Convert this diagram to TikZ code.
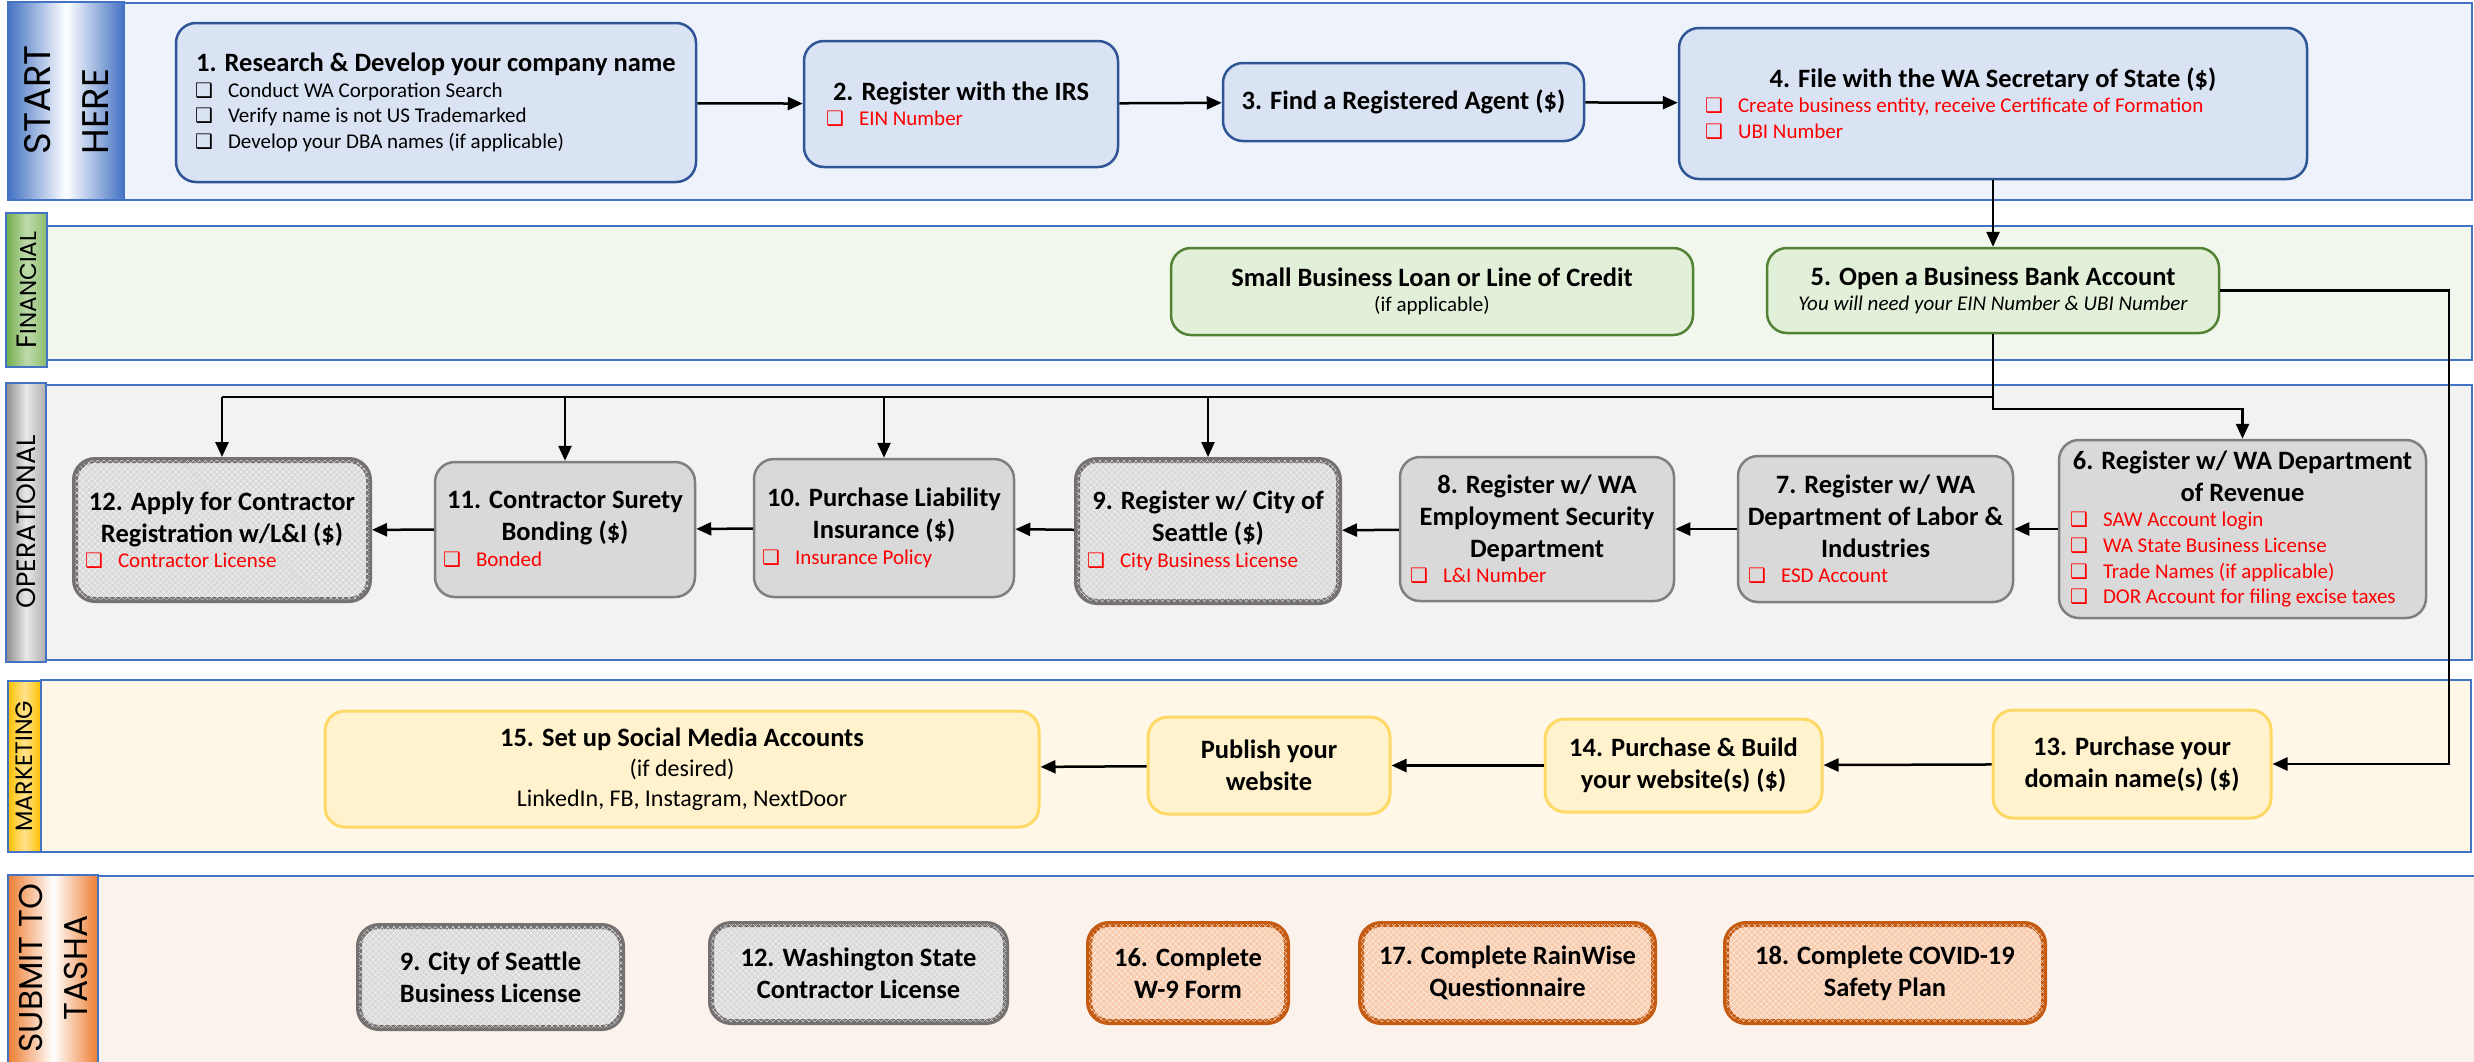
\documentclass[tikz,border=0pt]{standalone}
\usepackage{fontspec}
\setmainfont{Carlito}
\newfontfamily\lanefont{Poppins}
\newfontfamily\dingfont{DejaVu Sans}
\usetikzlibrary{arrows.meta,patterns.meta}
\setlength{\parindent}{0pt}

\definecolor{laneblue}{HTML}{4472C4}
\definecolor{blueline}{HTML}{2F5597}
\definecolor{bluefill}{HTML}{DAE3F3}
\definecolor{bluelane}{HTML}{EEF2FA}
\definecolor{greenstrip}{HTML}{70AD47}
\definecolor{greenline}{HTML}{548235}
\definecolor{greenfill}{HTML}{E2F0D9}
\definecolor{greenlane}{HTML}{F2F7EE}
\definecolor{graystrip}{HTML}{8C8C8C}
\definecolor{grayline}{HTML}{7F7F7F}
\definecolor{grayfill}{HTML}{D9D9D9}
\definecolor{graylane}{HTML}{F2F2F2}
\definecolor{darkgray}{HTML}{767171}
\definecolor{goldstrip}{HTML}{FFC000}
\definecolor{goldline}{HTML}{FFD966}
\definecolor{goldfill}{HTML}{FFF2CC}
\definecolor{goldlane}{HTML}{FFF8E8}
\definecolor{ruststrip}{HTML}{ED7D31}
\definecolor{rustline}{HTML}{C55A11}
\definecolor{rustfill}{HTML}{F8CBAD}
\definecolor{rustlane}{HTML}{FBF2EC}
\definecolor{itemred}{HTML}{FF0000}

% box text helpers
\newcommand{\boxbody}[2]{\begin{minipage}{#1pt}#2\end{minipage}}
\newcommand{\ttl}[1]{{\fontsize{26.5}{32}\selectfont\bfseries\centerline{#1}}}
\newcommand{\chk}{{\dingfont\fontsize{20}{20}\selectfont ❑}}
\newcommand{\itm}[1]{\makebox[33pt][l]{\chk}#1\par}
\newcommand{\ritm}[1]{{\color{itemred}\itm{#1}}}

\begin{document}
\begin{tikzpicture}[
    x=1pt, y=-1pt,
    lane/.style={draw=laneblue, line width=2pt},
    lanelabel/.style={rotate=90, inner sep=0pt, text=black},
    box/.style={rectangle, rounded corners=20pt, inner sep=0pt, font=\fontsize{21}{25.6}\selectfont},
    bluebox/.style={box, fill=bluefill, draw=blueline, line width=2.5pt},
    greenbox/.style={box, fill=greenfill, draw=greenline, line width=2.5pt},
    graybox/.style={box, fill=grayfill, draw=grayline, line width=2.5pt},
    goldbox/.style={box, fill=goldfill, draw=goldline, line width=3pt},
    texture/.style={postaction={pattern={Lines[angle=45,distance=4pt,line width=0.6pt]}, pattern color=white!80!#1},
                    postaction={pattern={Lines[angle=-45,distance=4pt,line width=0.6pt]}, pattern color=white!80!#1}},
    heavybox/.style={box, fill=grayfill, draw=darkgray, line width=6pt, texture=grayfill},
    rustbox/.style={box, fill=rustfill, draw=rustline, line width=6pt, texture=rustfill},
    wire/.style={line width=2.5pt},
    flow/.style={wire, -{Triangle[length=15pt,width=13pt]}}
    ]
    \useasboundingbox (0,0) rectangle (2474,1061);

    % lanes
    \filldraw[lane, fill=bluelane] (124,3) rectangle (2472,200);
    \shadedraw[lane, left color=laneblue, right color=laneblue, middle color=white] (8,2) rectangle (124,200);
    \filldraw[lane, fill=greenlane] (47,226) rectangle (2472,360);
    \shadedraw[lane, left color=greenstrip, right color=greenstrip!80, middle color=greenstrip!45] (6,213) rectangle (47,367);
    \filldraw[lane, fill=graylane] (46,385) rectangle (2472,660);
    \shadedraw[lane, left color=graystrip, right color=graystrip!70, middle color=grayfill!60] (6,383) rectangle (46,662);
    \filldraw[lane, fill=goldlane] (41,680) rectangle (2471,852);
    \shadedraw[lane, left color=goldstrip, right color=goldstrip, middle color=goldstrip!45] (8,681) rectangle (41,852);
    \filldraw[lane, fill=rustlane] (98,876) rectangle (2476,1063);
    \shadedraw[lane, left color=ruststrip, right color=ruststrip, middle color=white] (8,875) rectangle (98,1063);

    \node[lanelabel, font=\lanefont\fontsize{37}{58}\selectfont, align=left] (lstart) at (66,100) {START\\HERE};
    \node[lanelabel, font=\lanefont\fontsize{23}{28}\selectfont] (lfin) at (27,290) {{\fontsize{28}{28}\selectfont F}INANCIAL};
    \node[lanelabel, font=\lanefont\fontsize{26.5}{30}\selectfont] (lops) at (26,522) {OPERATIONAL};
    \node[lanelabel, font=\lanefont\fontsize{23.7}{28}\selectfont] (lmkt) at (24.5,766) {MARKETING};
    \node[lanelabel, font=\lanefont\fontsize{33}{45}\selectfont, align=center] (lsub) at (53,968) {SUBMIT TO\\TASHA};

    % start here
    \node[bluebox, minimum width=520, minimum height=159] (b1) at (436,102.5)
      {\boxbody{482}{\ttl{1. Research \& Develop your company name}\itm{Conduct WA Corporation Search}\itm{Verify name is not US Trademarked}\itm{Develop your DBA names (if applicable)}}};
    \node[bluebox, minimum width=314, minimum height=126] (b2) at (961,104)
      {\boxbody{270}{\ttl{2. Register with the IRS}\ritm{EIN Number}}};
    \node[bluebox, minimum width=361, minimum height=78] (b3) at (1403.5,102)
      {\boxbody{317}{\ttl{3. Find a Registered Agent (\$)}}};
    \node[bluebox, minimum width=628, minimum height=151] (b4) at (1993,103.5)
      {\boxbody{576}{\ttl{4. File with the WA Secretary of State (\$)}\ritm{Create business entity, receive Certificate of Formation}\ritm{UBI Number}}};

    % financial
    \node[greenbox, minimum width=522, minimum height=87] (loan) at (1432,291.5)
      {\boxbody{478}{\ttl{Small Business Loan or Line of Credit}\centerline{(if applicable)}}};
    \node[greenbox, minimum width=452, minimum height=85] (b5) at (1993,290.5)
      {\boxbody{408}{\ttl{5. Open a Business Bank Account}\centerline{\itshape You will need your EIN Number \& UBI Number}}};

    % operational
    \node[graybox, minimum width=367, minimum height=178] (b6) at (2242.5,529)
      {\boxbody{345}{\ttl{6. Register w/ WA Department}\ttl{of Revenue}\ritm{SAW Account login}\ritm{WA State Business License}\ritm{Trade Names (if applicable)}\ritm{DOR Account for filing excise taxes}}};
    \node[graybox, minimum width=275, minimum height=146] (b7) at (1875.5,529)
      {\boxbody{255}{\ttl{7. Register w/ WA}\ttl{Department of Labor \&}\ttl{Industries}\ritm{ESD Account}}};
    \node[graybox, minimum width=274, minimum height=144] (b8) at (1537,529)
      {\boxbody{254}{\ttl{8. Register w/ WA}\ttl{Employment Security}\ttl{Department}\ritm{L\&I Number}}};
    \node[heavybox, minimum width=262, minimum height=142] (b9) at (1208,531)
      {\boxbody{242}{\ttl{9. Register w/ City of}\ttl{Seattle (\$)}\ritm{City Business License}}};
    \node[graybox, minimum width=260, minimum height=138] (b10) at (884,528)
      {\boxbody{244}{\ttl{10. Purchase Liability}\ttl{Insurance (\$)}\ritm{Insurance Policy}}};
    \node[graybox, minimum width=260, minimum height=135] (b11) at (565,529.5)
      {\boxbody{244}{\ttl{11. Contractor Surety}\ttl{Bonding (\$)}\ritm{Bonded}}};
    \node[heavybox, minimum width=294, minimum height=140] (b12) at (222,530)
      {\boxbody{274}{\ttl{12. Apply for Contractor}\ttl{Registration w/L\&I (\$)}\ritm{Contractor License}}};

    % marketing
    \node[goldbox, minimum width=278, minimum height=108] (b13) at (2132,764)
      {\boxbody{238}{\ttl{13. Purchase your}\ttl{domain name(s) (\$)}}};
    \node[goldbox, minimum width=277, minimum height=93] (b14) at (1683.5,765.5)
      {\boxbody{237}{\ttl{14. Purchase \& Build}\ttl{your website(s) (\$)}}};
    \node[goldbox, minimum width=242, minimum height=97] (pub) at (1269,765.5)
      {\boxbody{202}{\ttl{Publish your}\ttl{website}}};
    \node[goldbox, minimum width=714, minimum height=116] (b15) at (682,769)
      {\boxbody{674}{\ttl{15. Set up Social Media Accounts}{\fontsize{24}{30}\selectfont\centerline{(if desired)}\centerline{LinkedIn, FB, Instagram, NextDoor}}}};

    % submit to tasha
    \node[heavybox, minimum width=263, minimum height=102] (s9) at (490.5,977)
      {\boxbody{223}{\ttl{9. City of Seattle}\ttl{Business License}}};
    \node[heavybox, minimum width=295, minimum height=98] (s12) at (858.5,973)
      {\boxbody{255}{\ttl{12. Washington State}\ttl{Contractor License}}};
    \node[rustbox, minimum width=198, minimum height=98] (s16) at (1188,973)
      {\boxbody{158}{\ttl{16. Complete}\ttl{W-9 Form}}};
    \node[rustbox, minimum width=293, minimum height=98] (s17) at (1507.5,973)
      {\boxbody{253}{\ttl{17. Complete RainWise}\ttl{Questionnaire}}};
    \node[rustbox, minimum width=318, minimum height=98] (s18) at (1885,973)
      {\boxbody{278}{\ttl{18. Complete COVID-19}\ttl{Safety Plan}}};

    % connectors
    \coordinate (hub) at (1993,397);
    \coordinate (rt) at (2449,290.5);
    \draw[flow] (b1) -- (b2);
    \draw[flow] (b2) -- (b3);
    \draw[flow] (b3) -- (b4);
    \draw[flow] (b4) -- (b5);
    \draw[wire] (b5) -- (hub);
    \draw[wire] (hub) -- (hub -| b12);
    \draw[flow] (hub -| b12) -- (b12);
    \draw[flow] (hub -| b11) -- (b11);
    \draw[flow] (hub -| b10) -- (b10);
    \draw[flow] (hub -| b9) -- (b9);
    \draw[flow] (hub) -- ++(0,12) -| (b6);
    \draw[flow] (b6) -- (b7);
    \draw[flow] (b7) -- (b8);
    \draw[flow] (b8) -- (b9);
    \draw[flow] (b9) -- (b10);
    \draw[flow] (b10) -- (b11);
    \draw[flow] (b11) -- (b12);
    \draw[flow] (b5) -- (rt) |- (b13);
    \draw[flow] (b13) -- (b14);
    \draw[flow] (b14) -- (pub);
    \draw[flow] (pub) -- (b15);
  \end{tikzpicture}
\end{document}
